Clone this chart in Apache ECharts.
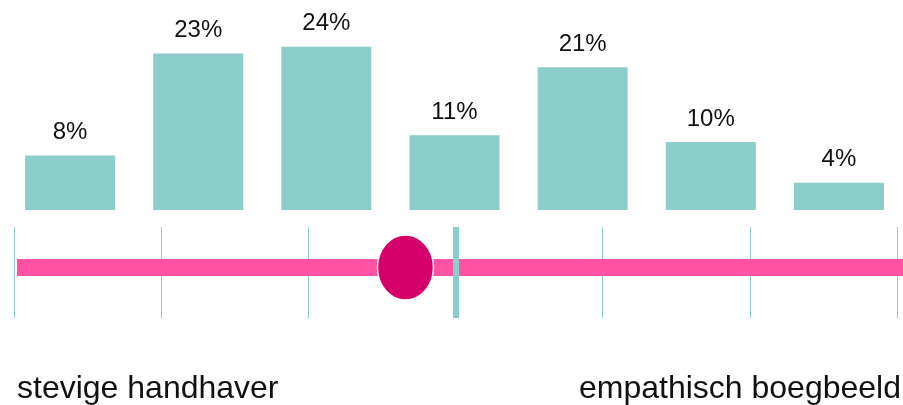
<!DOCTYPE html>
<html>
<head>
<meta charset="utf-8">
<script src="https://cdn.jsdelivr.net/npm/echarts@6/dist/echarts.min.js"></script>
<style>
html,body{margin:0;padding:0;background:#fff;}
#chart{width:903px;height:405px;}
</style>
</head>
<body>
<div id="chart"></div>
<script>
// Data
const categories = ['1', '2', '3', '4', '5', '6', '7'];
const percentages = [8, 23, 24, 11, 21, 10, 4];
const scaleTicks = [0, 1, 2, 3, 4, 5, 6];
const scaleMid = 3;
const scoreValue = 2.66;
const scoreY = 0.11;
const scaleStart = 0.02;
const scaleEnd = 6.05;
const endLabels = ['stevige handhaver', 'empathisch boegbeeld'];

const teal = '#8BCDCA';
const pink = '#FF52A5';
const magenta = '#D6006A';
const font = '"Liberation Sans", Arial, sans-serif';

const chart = echarts.init(document.getElementById('chart'));
chart.setOption({
  animation: false,
  backgroundColor: '#fff',
  grid: [
    { left: 6, width: 899, top: 6, height: 204 },
    { left: 14, right: 6, top: 227, height: 91 }
  ],
  xAxis: [
    { type: 'category', data: categories, gridIndex: 0, show: false },
    { type: 'value', gridIndex: 1, min: scaleTicks[0], max: scaleTicks[scaleTicks.length - 1], interval: 1,
      axisLine: { show: false }, axisTick: { show: false }, axisLabel: { show: false },
      splitLine: { show: true, lineStyle: { color: teal, width: 1 } } }
  ],
  yAxis: [
    { type: 'value', gridIndex: 0, min: 0, max: 30, show: false, splitLine: { show: false } },
    { type: 'value', gridIndex: 1, min: -1, max: 1, show: false, splitLine: { show: false } }
  ],
  series: [
    {
      type: 'bar', xAxisIndex: 0, yAxisIndex: 0, data: percentages, barWidth: 90,
      itemStyle: { color: teal },
      label: { show: true, position: 'top', distance: 11, formatter: '{c}%',
        fontSize: 24, color: '#111', fontFamily: font }
    },
    {
      type: 'scatter', xAxisIndex: 1, yAxisIndex: 1, data: [], z: 2, silent: true,
      markLine: { silent: true, symbol: 'none', label: { show: false },
        lineStyle: { color: teal, width: 6, type: 'solid' },
        data: [{ xAxis: scaleMid }] }
    },
    {
      type: 'line', xAxisIndex: 1, yAxisIndex: 1, z: 3, clip: false, symbol: 'none', silent: true,
      data: [[scaleStart, scoreY], [scaleEnd, scoreY]],
      lineStyle: { color: pink, width: 17, cap: 'butt' }
    },
    {
      type: 'scatter', xAxisIndex: 1, yAxisIndex: 1, z: 4, silent: true,
      data: [[scoreValue, scoreY]], symbol: 'circle', symbolSize: [56, 65],
      itemStyle: { color: magenta, borderColor: '#fff', borderWidth: 1.5, opacity: 1 }
    }
  ],
  graphic: [
    { type: 'text', left: 17, top: 373, style: { text: endLabels[0], font: '32px ' + font, fill: '#111' } },
    { type: 'text', right: 2, top: 373, style: { text: endLabels[1], font: '32px ' + font, fill: '#111' } }
  ]
});
</script>
</body>
</html>
